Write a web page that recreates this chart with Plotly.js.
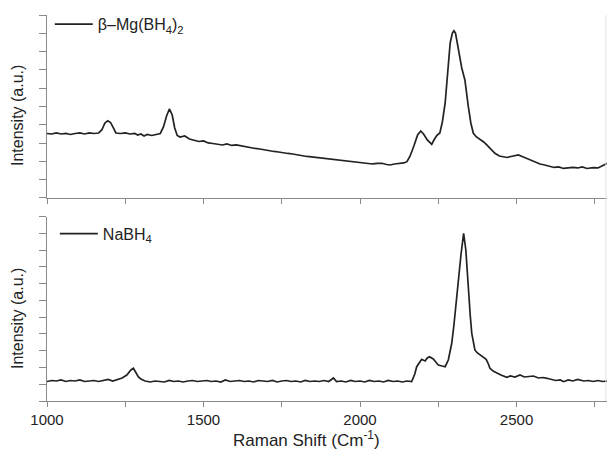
<!DOCTYPE html>
<html>
<head>
<meta charset="utf-8">
<script src="https://cdn.plot.ly/plotly-3.0.1.min.js"></script>
<style>html,body{margin:0;padding:0;background:#fff;}#chart{width:607px;height:453px;}</style>
</head>
<body>
<div id="chart"></div>
<script>
// Raman shift (cm^-1) and intensity (a.u.)
const mgShift = [1000,1015,1030,1045,1060,1075,1090,1105,1120,1135,1150,1165,1175,1185,1194,1203,1212,1220,1235,1250,1265,1280,1290,1300,1310,1320,1335,1350,1362,1372,1382,1391,1400,1408,1416,1425,1440,1455,1470,1485,1500,1515,1530,1545,1560,1575,1590,1605,1620,1635,1650,1665,1680,1695,1710,1725,1740,1755,1770,1785,1800,1815,1830,1845,1860,1875,1890,1905,1920,1935,1950,1965,1980,1995,2010,2025,2040,2055,2070,2085,2096,2110,2125,2140,2150,2160,2172,2184,2194,2203,2215,2229,2238,2245,2255,2263,2272,2280,2288,2295,2300,2305,2311,2318,2325,2335,2340,2346,2354,2362,2372,2383,2395,2405,2418,2431,2445,2458,2470,2482,2495,2506,2518,2533,2548,2562,2575,2590,2605,2620,2635,2650,2665,2680,2695,2710,2725,2745,2760,2775,2790];
const mgIntensity = [64.5,64,65,64,64.5,63.5,64.5,65,64,65,64.5,65,68,75,77.3,75.5,70,65,64.5,65,64,64.5,63,64,62,63.5,62.5,64,64.5,71,82,89,83,70,62.5,61,62,59,57.5,56.5,57,55,54.5,54,53,54,52.5,53,52,51,50.5,49.5,49,48,47,46.5,46,45,44.5,44,43,42.5,41.5,41,40.5,40,39.5,39,38.5,38,37,36.5,36,35.5,35,34.5,34,34.5,34.7,33.5,33,34,34.5,35,36.3,42,52,63,67,64,58,53.7,59,62.3,65,76,95,123,155,165,167.3,165,155,140,130,118,105,91.3,75,64.7,61,58.7,56,53,49,44.7,42,41.3,40.5,41.5,42,43,41.5,39.7,37.5,35.5,34,33,32,30.5,31,29.5,30,30.5,30,31,29.5,30.3,30,32.5,34.7];

const naShift = [1000,1015,1030,1045,1060,1075,1090,1105,1120,1135,1150,1165,1180,1195,1210,1225,1240,1255,1268,1276,1284,1292,1300,1313,1330,1345,1360,1375,1390,1405,1420,1435,1450,1465,1480,1495,1510,1525,1540,1555,1570,1585,1600,1615,1630,1645,1660,1675,1690,1705,1720,1735,1750,1765,1780,1795,1810,1825,1840,1855,1870,1885,1900,1915,1925,1940,1955,1970,1985,2000,2015,2030,2045,2060,2075,2090,2105,2120,2135,2150,2165,2175,2181,2190,2197,2208,2215,2222,2234,2242,2250,2262,2272,2282,2288,2293,2300,2309,2316,2323,2331,2338,2342,2346,2352,2357,2362,2367,2375,2383,2393,2403,2410,2415,2425,2437,2450,2469,2480,2495,2511,2525,2540,2554,2570,2585,2597,2610,2625,2640,2650,2665,2680,2695,2703,2715,2730,2745,2760,2775,2790];
const naIntensity = [19.5,20.5,20,21,19.5,20.5,20,21,19.5,20,20.5,19.5,20.5,21.5,20,21.5,23,26,31,32.7,29,24,22,20,19,20,19.5,19,20.5,19.5,20,19,20,20.5,19.5,20,20.5,19.5,20,19,21,19.5,20,20.5,19.5,20,19,20.5,20,19.5,20.5,19,20,20.5,19.5,20,19,20.5,19.5,20,19.5,20.5,19.5,23,19.5,20,19,20.5,19.5,20,19,20.5,19.5,20,19,20.5,19.5,20,19,20,19.5,27,34.3,39,41.7,40,43,44.3,42,39,36,35,34.3,41,49,57.7,76,101,126,147.7,167.7,151,131,107.7,86,67.7,57,51,48,46,44,41.7,37,32.7,30,27.7,26,23.7,25,24,26,24,24.5,25,23,23.5,22.7,21.5,20.5,21,19.3,21,20,21.5,21,20,20.5,19.5,20.5,19.5,20];

const xTickVals = [1000,1250,1500,1750,2000,2250,2500,2750];
const xTickText = ['1000','','1500','','2000','','2500',''];
const seriesNames = ['β–Mg(BH<sub>4</sub>)<sub>2</sub>', 'NaBH<sub>4</sub>'];

const FONT = 'Liberation Sans, Arial, sans-serif';
const AX = '#8a8a8a';
const xRange = [1000, 2789];

const traces = [
  {x: mgShift, y: mgIntensity, xaxis: 'x2', yaxis: 'y2', type: 'scatter', mode: 'lines',
   name: seriesNames[0], legend: 'legend', line: {color: '#222', width: 1.7}},
  {x: naShift, y: naIntensity, xaxis: 'x', yaxis: 'y', type: 'scatter', mode: 'lines',
   name: seriesNames[1], legend: 'legend2', line: {color: '#222', width: 1.7}}
];

const xBase = {range: xRange, showgrid: false, zeroline: false, showline: true, linecolor: AX, linewidth: 1,
  ticks: 'outside', ticklen: 5, tickcolor: AX, tickwidth: 1, tickvals: xTickVals, ticktext: xTickText};
const yBase = {showgrid: false, zeroline: false, showline: true, linecolor: AX, linewidth: 1,
  ticks: 'outside', ticklen: 7, tickcolor: AX, tickwidth: 1, showticklabels: false, tick0: 0};

const layout = {
  width: 607, height: 453,
  margin: {l: 47, r: 0, t: 15, b: 52},
  paper_bgcolor: '#fff', plot_bgcolor: '#fff',
  font: {family: FONT, color: '#222', size: 15},
  showlegend: true,
  xaxis: Object.assign({}, xBase, {anchor: 'y', showticklabels: true, tickfont: {size: 15, color: '#222'}}),
  xaxis2: Object.assign({}, xBase, {anchor: 'y2', showticklabels: false, matches: 'x'}),
  yaxis: Object.assign({}, yBase, {domain: [0, 0.4775], range: [0, 184.3], dtick: 16.75}),
  yaxis2: Object.assign({}, yBase, {domain: [0.526, 1], range: [0, 183], dtick: 18.3}),
  legend: {x: 0.005, y: 1.02, xanchor: 'left', yanchor: 'top', bgcolor: 'rgba(0,0,0,0)', borderwidth: 0,
    itemwidth: 38, font: {size: 16, color: '#222'}},
  legend2: {x: 0.014, y: 0.4775, xanchor: 'left', yanchor: 'top', bgcolor: 'rgba(0,0,0,0)', borderwidth: 0,
    itemwidth: 38, font: {size: 16, color: '#222'}},
  annotations: [
    {text: 'Raman Shift (Cm<sup>-1</sup>)', xref: 'paper', yref: 'paper', x: (306-47)/560, y: (401-439)/386,
     showarrow: false, xanchor: 'center', yanchor: 'middle', font: {size: 17, color: '#222'}},
    {text: 'Intensity (a.u.)', xref: 'paper', yref: 'paper', x: -30/560, y: (401-116)/386, textangle: -90,
     showarrow: false, xanchor: 'center', yanchor: 'middle', font: {size: 16, color: '#222'}},
    {text: 'Intensity (a.u.)', xref: 'paper', yref: 'paper', x: -30/560, y: (401-319)/386, textangle: -90,
     showarrow: false, xanchor: 'center', yanchor: 'middle', font: {size: 16, color: '#222'}}
  ],
  shapes: [
    {type: 'line', xref: 'paper', yref: 'paper', x0: 0.998, x1: 0.998, y0: 0, y1: 1, line: {color: '#e4e4e4', width: 1}}
  ]
};

Plotly.newPlot('chart', traces, layout, {displayModeBar: false, staticPlot: true});
</script>
</body>
</html>
